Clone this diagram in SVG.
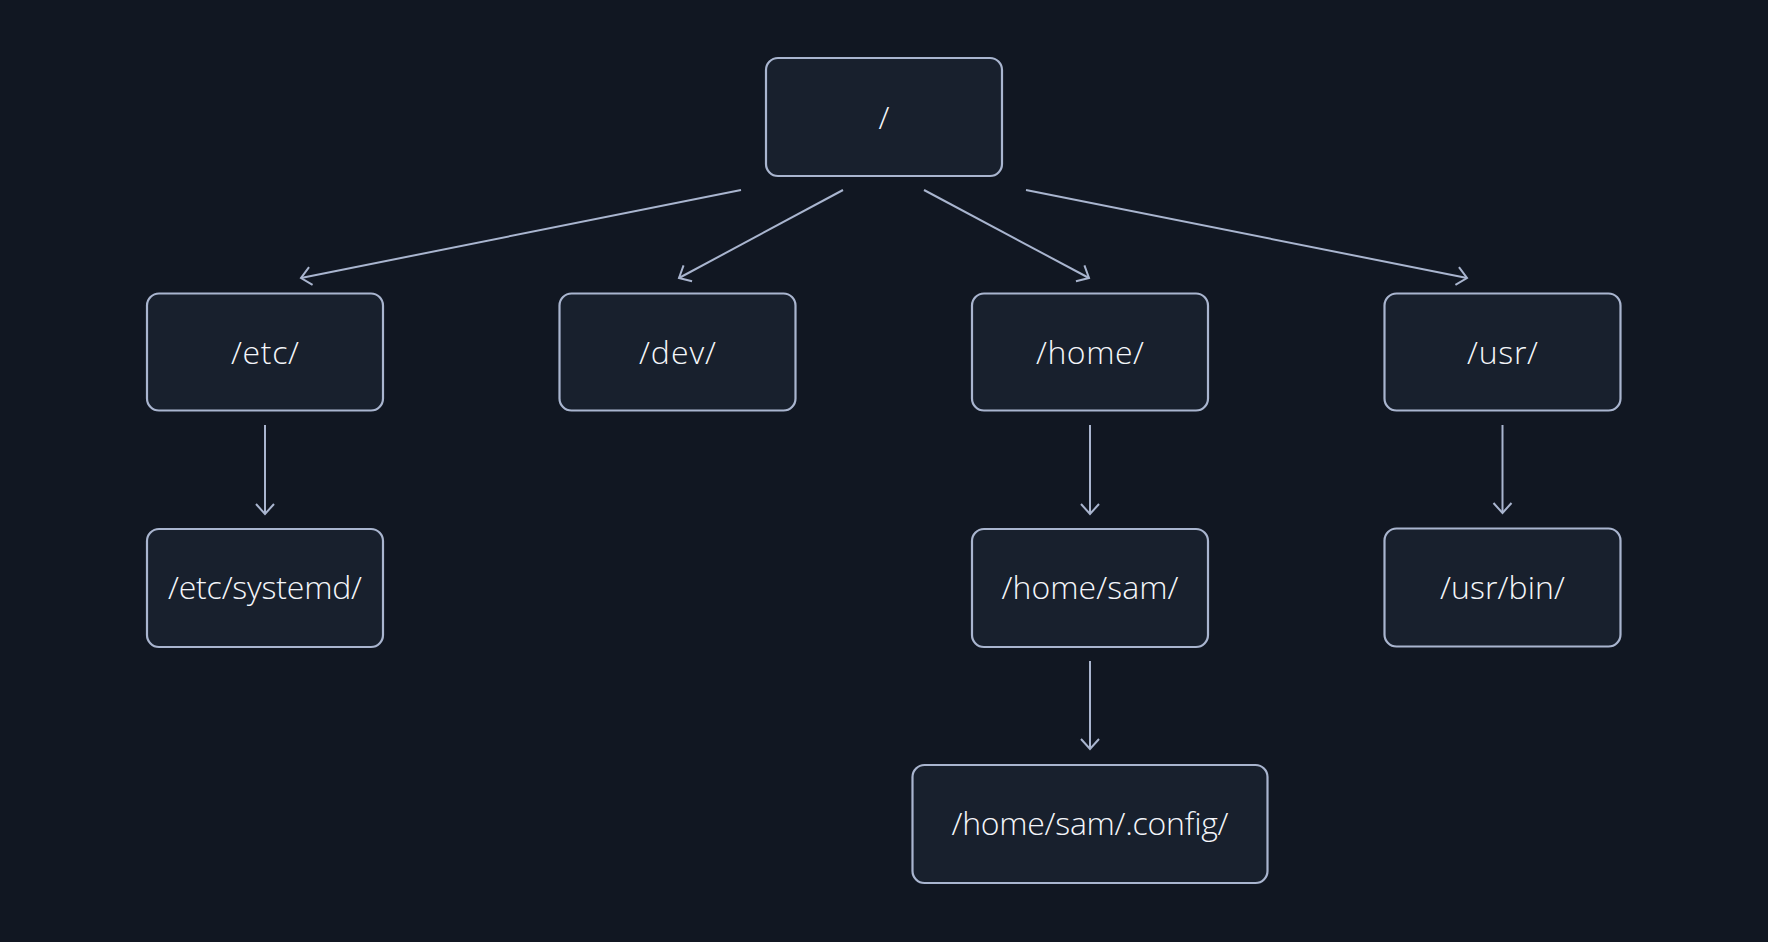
<svg xmlns="http://www.w3.org/2000/svg" width="1768" height="942" viewBox="0 0 1768 942">
<defs>
<style>
.node rect{fill:#18202d;stroke:#a9b5cf;stroke-width:2.2}
.node text{font-family:"Open Sans","Liberation Sans",sans-serif;font-weight:300;font-size:32px;fill:#f4f6fa;text-anchor:middle}
.edge{stroke:#a9b5cf;stroke-width:2;fill:none;marker-end:url(#arr)}
</style>
<marker id="arr" markerUnits="userSpaceOnUse" markerWidth="24" markerHeight="24" viewBox="-12 -12 24 24" refX="0" refY="0" orient="auto" overflow="visible">
<path d="M-10,-9 L0,0 L-10,9" fill="none" stroke="#a9b5cf" stroke-width="2"/>
</marker>
</defs>
<rect width="1768" height="942" fill="#111722"/>
<g id="connectors">
<line class="edge" x1="741" y1="190" x2="301" y2="278"/>
<line class="edge" x1="843" y1="190" x2="679" y2="278"/>
<line class="edge" x1="924" y1="190" x2="1089" y2="278"/>
<line class="edge" x1="1026" y1="190" x2="1467" y2="278"/>
<line class="edge" x1="265" y1="425" x2="265" y2="514"/>
<line class="edge" x1="1090" y1="425" x2="1090" y2="514"/>
<line class="edge" x1="1502.5" y1="425" x2="1502.5" y2="513"/>
<line class="edge" x1="1090" y1="661" x2="1090" y2="749"/>
</g>
<g id="root" class="node"><rect x="766" y="58" width="236" height="118" rx="12"/><text x="884" y="129">/</text></g>
<g id="etc" class="node"><rect x="147" y="293.5" width="236" height="117" rx="12"/><text x="265" y="364" textLength="68" lengthAdjust="spacing">/etc/</text></g>
<g id="dev" class="node"><rect x="559.5" y="293.5" width="236" height="117" rx="12"/><text x="677.5" y="364" textLength="77" lengthAdjust="spacing">/dev/</text></g>
<g id="home" class="node"><rect x="972" y="293.5" width="236" height="117" rx="12"/><text x="1090" y="364" textLength="108" lengthAdjust="spacing">/home/</text></g>
<g id="usr" class="node"><rect x="1384.5" y="293.5" width="236" height="117" rx="12"/><text x="1502.5" y="364" textLength="71" lengthAdjust="spacing">/usr/</text></g>
<g id="etc-systemd" class="node"><rect x="147" y="529" width="236" height="118" rx="12"/><text x="265" y="599" textLength="194" lengthAdjust="spacing">/etc/systemd/</text></g>
<g id="home-sam" class="node"><rect x="972" y="529" width="236" height="118" rx="12"/><text x="1090" y="599" textLength="177" lengthAdjust="spacing">/home/sam/</text></g>
<g id="usr-bin" class="node"><rect x="1384.5" y="528.5" width="236" height="118" rx="12"/><text x="1502.5" y="599" textLength="125" lengthAdjust="spacing">/usr/bin/</text></g>
<g id="home-sam-config" class="node"><rect x="912.5" y="765" width="355" height="118" rx="12"/><text x="1090" y="835" textLength="277" lengthAdjust="spacing">/home/sam/.config/</text></g>
</svg>
